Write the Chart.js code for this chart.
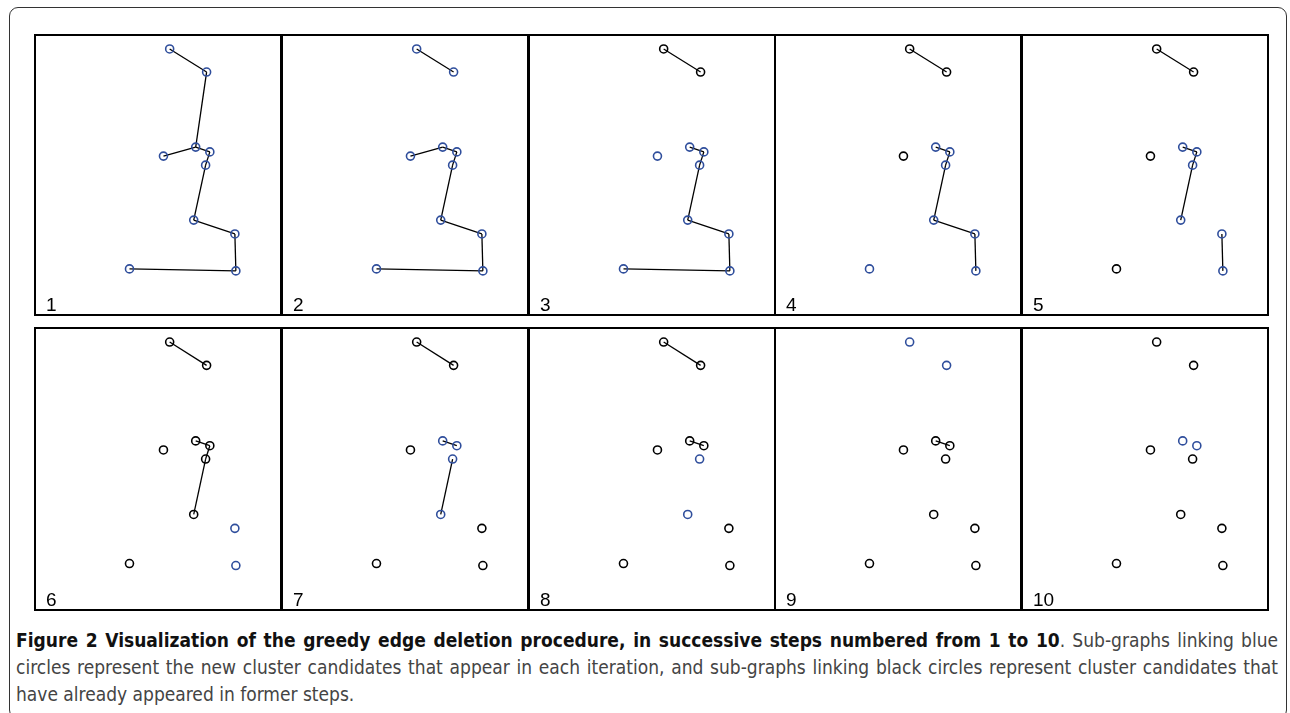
<!DOCTYPE html>
<html>
<head>
<meta charset="utf-8">
<script src="https://cdn.jsdelivr.net/npm/chart.js@4.4.1/dist/chart.umd.min.js"></script>
<style>
  html, body { margin: 0; padding: 0; background: #fff; }
  body { width: 1290px; height: 713px; position: relative; overflow: hidden; }
  .frame {
    position: absolute; left: 9px; top: 7px; width: 1278px; height: 712px;
    border: 1.5px solid #333; border-radius: 9px; box-sizing: border-box;
  }
  .panel { position: absolute; }
  .panel canvas { position: absolute; left: 0; top: 0; }
  .panel .box {
    position: absolute; left: 0; top: 0; right: 0; bottom: 0;
    border: 2px solid #000; box-sizing: border-box; pointer-events: none;
  }
  .panel .num {
    position: absolute; left: 12px; bottom: 0px;
    font: 19px "Liberation Sans", Arial, sans-serif; color: #000;
  }
  .caption {
    position: absolute; left: 16px; width: 1262px;
    font-family: "Liberation Sans Narrow", "DejaVu Sans Condensed", sans-serif;
    font-size: 19px; color: #444; white-space: nowrap;
  }
  .caption.j { text-align: justify; text-align-last: justify; }
  .caption b { color: #111; }
</style>
</head>
<body>
<div class="frame"></div>
<div id="panels"></div>
<div class="caption j" style="top:629px"><b>Figure 2 Visualization of the greedy edge deletion procedure, in successive steps numbered from 1 to 10</b>. Sub-graphs linking blue</div>
<div class="caption j" style="top:656px">circles represent the new cluster candidates that appear in each iteration, and sub-graphs linking black circles represent cluster candidates that</div>
<div class="caption" style="top:683px">have already appeared in former steps.</div>

<script>
// node positions, same layout in every step (x, y in 0..100, y up)
const nodeNames = ["A", "B", "C", "D", "E", "F", "G", "H", "I", "J"];
const nodeX = [54.7, 69.6, 65.2, 52.2, 70.9, 69.2, 64.4, 81.0, 81.4, 38.5];
const nodeY = [94.7, 86.5, 59.9, 56.7, 58.2, 53.5, 34.0, 29.1, 16.0, 16.7];

const stepLabels = ["1", "2", "3", "4", "5", "6", "7", "8", "9", "10"];

// edges left in the graph at each step
const stepEdges = [
  ["AB", "BC", "CD", "CE", "EF", "FG", "GH", "HI", "IJ"],
  ["AB", "CD", "CE", "EF", "FG", "GH", "HI", "IJ"],
  ["AB", "CE", "EF", "FG", "GH", "HI", "IJ"],
  ["AB", "CE", "EF", "FG", "GH", "HI"],
  ["AB", "CE", "EF", "FG", "HI"],
  ["AB", "CE", "EF", "FG"],
  ["AB", "CE", "FG"],
  ["AB", "CE"],
  ["CE"],
  [],
];

// nodes drawn blue (new cluster candidates) at each step
const stepBlue = [
  "ABCDEFGHIJ",
  "ABCDEFGHIJ",
  "CDEFGHIJ",
  "CEFGHIJ",
  "CEFGHI",
  "HI",
  "CEFG",
  "FG",
  "AB",
  "CE",
];

const BLUE = "#2f4e9c";
const rows = [{ top: 34, h: 282 }, { top: 327, h: 284 }];
const colLeft = 34, colW = 246.8, panelW = 248;

const pt = (n) => {
  const i = nodeNames.indexOf(n);
  return { x: nodeX[i], y: nodeY[i] };
};

const host = document.getElementById("panels");
stepLabels.forEach((label, s) => {
  const row = rows[Math.floor(s / 5)];
  const col = s % 5;
  const left = Math.round(colLeft + col * colW);

  const div = document.createElement("div");
  div.className = "panel";
  div.style.left = left + "px";
  div.style.top = row.top + "px";
  div.style.width = panelW + "px";
  div.style.height = row.h + "px";
  const cv = document.createElement("canvas");
  cv.width = panelW;
  cv.height = row.h;
  div.appendChild(cv);
  const box = document.createElement("div");
  box.className = "box";
  div.appendChild(box);
  const num = document.createElement("div");
  num.className = "num";
  num.textContent = label;
  div.appendChild(num);
  host.appendChild(div);

  const edgeSets = stepEdges[s].map((e) => ({
    type: "line",
    data: [pt(e[0]), pt(e[1])],
    borderColor: "#000",
    borderWidth: 1.3,
    pointRadius: 0,
    order: 2,
  }));
  const blue = nodeNames.filter((n) => stepBlue[s].includes(n)).map(pt);
  const black = nodeNames.filter((n) => !stepBlue[s].includes(n)).map(pt);

  new Chart(cv, {
    type: "scatter",
    data: {
      datasets: [
        ...edgeSets,
        { data: black, pointRadius: 4, borderWidth: 1.6, borderColor: "#000", backgroundColor: "transparent", order: 1 },
        { data: blue, pointRadius: 4, borderWidth: 1.6, borderColor: BLUE, backgroundColor: "transparent", order: 1 },
      ],
    },
    options: {
      responsive: false,
      animation: false,
      layout: { padding: 0, autoPadding: false },
      plugins: { legend: { display: false }, tooltip: { enabled: false } },
      scales: {
        x: { type: "linear", min: 0, max: 100, display: false },
        y: { type: "linear", min: 0, max: 100, display: false },
      },
    },
  });
});
</script>
</body>
</html>
